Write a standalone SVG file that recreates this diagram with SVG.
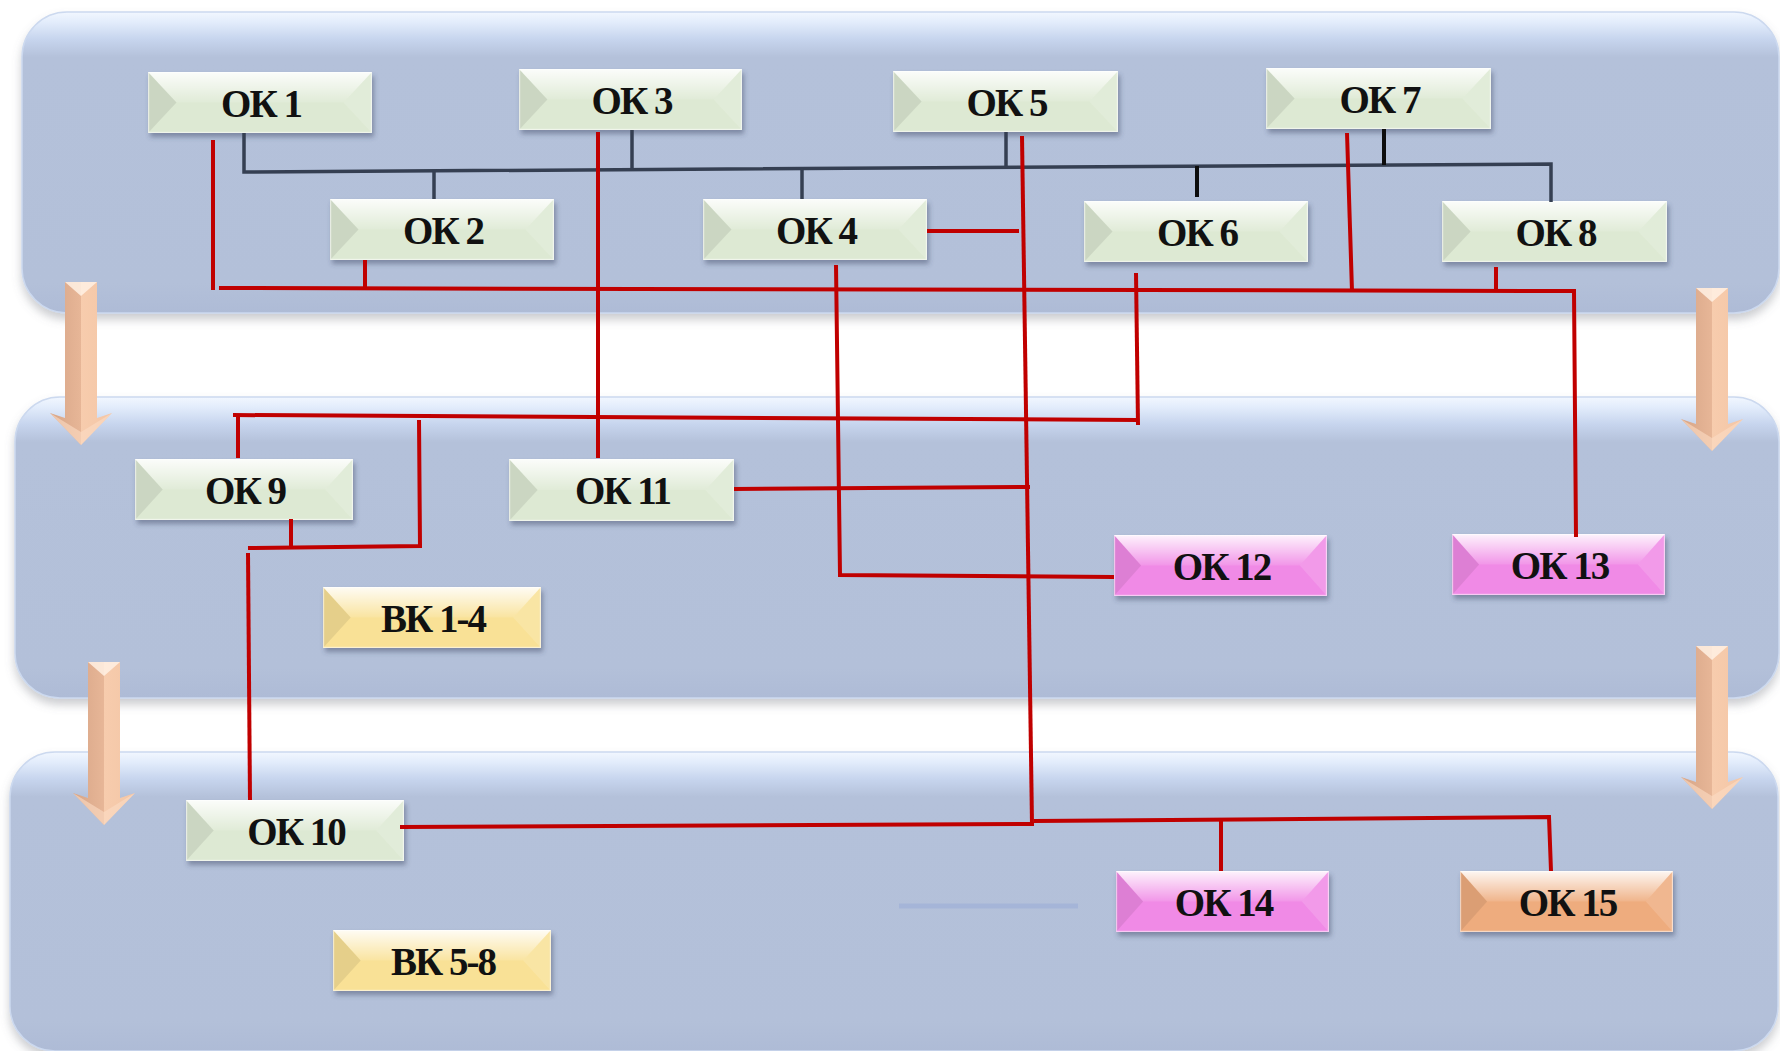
<svg xmlns="http://www.w3.org/2000/svg" xmlns:xlink="http://www.w3.org/1999/xlink" width="1780" height="1051" viewBox="0 0 1780 1051">
<defs>
  <linearGradient id="panelG" x1="0" y1="0" x2="0" y2="1">
    <stop offset="0" stop-color="#F2F7FF"/>
    <stop offset="0.035" stop-color="#E2ECFB"/>
    <stop offset="0.09" stop-color="#C7D5EE"/>
    <stop offset="0.15" stop-color="#B4C1DA"/>
    <stop offset="0.9" stop-color="#B3C0D9"/>
    <stop offset="1" stop-color="#AEBBD6"/>
  </linearGradient>
  <linearGradient id="arrowG" x1="0" y1="0" x2="1" y2="0">
    <stop offset="0" stop-color="#D7A587"/>
    <stop offset="0.5" stop-color="#E7B697"/>
    <stop offset="0.5" stop-color="#F7CCAD"/>
    <stop offset="1" stop-color="#F4C6A6"/>
  </linearGradient>
  <linearGradient id="topHi" x1="0" y1="0" x2="0" y2="1">
    <stop offset="0" stop-color="#FFFFFF" stop-opacity="0.9"/>
    <stop offset="1" stop-color="#FFFFFF" stop-opacity="0.1"/>
  </linearGradient>
  <filter id="panelSh" x="-5%" y="-10%" width="110%" height="125%">
    <feDropShadow dx="0" dy="6" stdDeviation="5" flood-color="#6B6F78" flood-opacity="0.35"/>
  </filter>
  <filter id="nodeSh" x="-10%" y="-20%" width="125%" height="160%">
    <feDropShadow dx="2" dy="4" stdDeviation="2.5" flood-color="#3B4660" flood-opacity="0.45"/>
  </filter>
  <symbol id="bevel" viewBox="0 0 220 61" preserveAspectRatio="none">
    <polygon points="0,0 220,0 192,30.5 28,30.5" fill="url(#topHi)"/>
    <polygon points="0,0 28,30.5 0,61" fill="#000" fill-opacity="0.08"/>
    <polygon points="220,0 192,30.5 220,61" fill="#fff" fill-opacity="0.14"/>
    <rect x="0.6" y="0.6" width="218.8" height="59.8" fill="none" stroke="#fff" stroke-opacity="0.55" stroke-width="1.2"/>
  </symbol>
  <g id="arrow">
    <polygon points="0,0 32,0 32,136 47,131 16,163 -15,131 0,136" fill="url(#arrowG)"/>
    <polygon points="0,0 32,0 16,14" fill="#FFF1E4" fill-opacity="0.85"/>
    <polygon points="-15,131 16,150 47,131 16,163" fill="#FBDCC4" fill-opacity="0.6"/>
  </g>
  <style>
    .panel { fill: url(#panelG); stroke: #CCD9EF; stroke-width: 1.5; filter: url(#panelSh); }
    .body { filter: url(#nodeSh); }
    .green .body { fill: #DDE9D3; }
    .pink .body { fill: #F08AE6; }
    .orange .body { fill: #EEAC7E; }
    .yellow .body { fill: #F9E196; }
    .lbl { font-family: "Liberation Serif", "Times New Roman", serif; font-weight: bold; font-size: 39px; text-anchor: middle; fill: #111111; letter-spacing: -2px; }
    .red { stroke: #C00000; stroke-width: 4; fill: none; }
    .dark { stroke: #353F52; stroke-width: 3.5; fill: none; }
    .black { stroke: #0D0D0D; stroke-width: 4; fill: none; }
  </style>
</defs>
<rect x="0" y="0" width="1780" height="1051" fill="#FFFFFF"/>

<g id="panels">
  <rect class="panel" x="22" y="12" width="1757" height="301" rx="45" ry="45"/>
  <rect class="panel" x="15" y="397" width="1764" height="301" rx="45" ry="45"/>
  <rect class="panel" x="10" y="752" width="1768" height="299" rx="45" ry="45"/>
</g>

<g id="arrows">
  <use href="#arrow" transform="translate(65,282)"/>
  <use href="#arrow" transform="translate(88,662)"/>
  <use href="#arrow" transform="translate(1696,288)"/>
  <use href="#arrow" transform="translate(1696,646)"/>
</g>

<line x1="899" y1="906" x2="1078" y2="906" stroke="#A5B5D8" stroke-width="5"/>

<g id="ok1" class="green" transform="translate(148,72)">
  <rect class="body" width="224" height="61"/><use href="#bevel" width="224" height="61"/>
  <text class="lbl" x="113" y="45">ОК 1</text>
</g>
<g id="ok2" class="green" transform="translate(330,199)">
  <rect class="body" width="224" height="61"/><use href="#bevel" width="224" height="61"/>
  <text class="lbl" x="113" y="45">ОК 2</text>
</g>
<g id="ok3" class="green" transform="translate(519,69)">
  <rect class="body" width="223" height="61"/><use href="#bevel" width="223" height="61"/>
  <text class="lbl" x="112.5" y="45">ОК 3</text>
</g>
<g id="ok4" class="green" transform="translate(703,199)">
  <rect class="body" width="224" height="61"/><use href="#bevel" width="224" height="61"/>
  <text class="lbl" x="113" y="45">ОК 4</text>
</g>
<g id="ok5" class="green" transform="translate(893,71)">
  <rect class="body" width="225" height="61"/><use href="#bevel" width="225" height="61"/>
  <text class="lbl" x="113.5" y="45">ОК 5</text>
</g>
<g id="ok6" class="green" transform="translate(1084,201)">
  <rect class="body" width="224" height="61"/><use href="#bevel" width="224" height="61"/>
  <text class="lbl" x="113" y="45">ОК 6</text>
</g>
<g id="ok7" class="green" transform="translate(1266,68)">
  <rect class="body" width="225" height="61"/><use href="#bevel" width="225" height="61"/>
  <text class="lbl" x="113.5" y="45">ОК 7</text>
</g>
<g id="ok8" class="green" transform="translate(1442,201)">
  <rect class="body" width="225" height="61"/><use href="#bevel" width="225" height="61"/>
  <text class="lbl" x="113.5" y="45">ОК 8</text>
</g>
<g id="ok9" class="green" transform="translate(135,459)">
  <rect class="body" width="218" height="61"/><use href="#bevel" width="218" height="61"/>
  <text class="lbl" x="110" y="45">ОК 9</text>
</g>
<g id="ok11" class="green" transform="translate(509,459)">
  <rect class="body" width="225" height="62"/><use href="#bevel" width="225" height="62"/>
  <text class="lbl" x="113.5" y="45">ОК 11</text>
</g>
<g id="vk1-4" class="yellow" transform="translate(323,587)">
  <rect class="body" width="218" height="61"/><use href="#bevel" width="218" height="61"/>
  <text class="lbl" x="110" y="45">ВК 1-4</text>
</g>
<g id="ok12" class="pink" transform="translate(1114,535)">
  <rect class="body" width="213" height="61"/><use href="#bevel" width="213" height="61"/>
  <text class="lbl" x="107.5" y="45">ОК 12</text>
</g>
<g id="ok13" class="pink" transform="translate(1452,534)">
  <rect class="body" width="213" height="61"/><use href="#bevel" width="213" height="61"/>
  <text class="lbl" x="107.5" y="45">ОК 13</text>
</g>
<g id="ok10" class="green" transform="translate(186,800)">
  <rect class="body" width="218" height="61"/><use href="#bevel" width="218" height="61"/>
  <text class="lbl" x="110" y="45">ОК 10</text>
</g>
<g id="vk5-8" class="yellow" transform="translate(333,930)">
  <rect class="body" width="218" height="61"/><use href="#bevel" width="218" height="61"/>
  <text class="lbl" x="110" y="45">ВК 5-8</text>
</g>
<g id="ok14" class="pink" transform="translate(1116,871)">
  <rect class="body" width="213" height="61"/><use href="#bevel" width="213" height="61"/>
  <text class="lbl" x="107.5" y="45">ОК 14</text>
</g>
<g id="ok15" class="orange" transform="translate(1460,871)">
  <rect class="body" width="213" height="61"/><use href="#bevel" width="213" height="61"/>
  <text class="lbl" x="107.5" y="45">ОК 15</text>
</g>

<g id="connectors">
  <path class="dark" d="M244,133 V172 L1551,164 V202"/>
  <path class="dark" d="M434,171 V199"/>
  <path class="dark" d="M632,130 V168"/>
  <path class="dark" d="M802,168 V199"/>
  <path class="dark" d="M1006,132 V166"/>
  <path class="black" d="M1197,166 V197"/>
  <path class="black" d="M1384,129 V165"/>

  <path class="red" d="M213,140 V290"/>
  <path class="red" d="M219,288 L1574,291 L1576,537"/>
  <path class="red" d="M365,260 V288"/>
  <path class="red" d="M598,132 V458"/>
  <path class="red" d="M836,265 L840,575 L1114,577"/>
  <path class="red" d="M1022,136 L1032,824"/>
  <path class="red" d="M927,231 H1019"/>
  <path class="red" d="M1136,273 L1138,425"/>
  <path class="red" d="M233,415 L1138,420"/>
  <path class="red" d="M238,416 V458"/>
  <path class="red" d="M248,548 L420,546 L419,420"/>
  <path class="red" d="M291,519 V548"/>
  <path class="red" d="M248,553 L250,800"/>
  <path class="red" d="M1347,133 L1352,291"/>
  <path class="red" d="M1496,267 V291"/>
  <path class="red" d="M734,489 L1030,487"/>
  <path class="red" d="M400,827 L1034,824"/>
  <path class="red" d="M1034,821 L1549,817 L1551,871"/>
  <path class="red" d="M1221,820 V871"/>
</g>
</svg>
